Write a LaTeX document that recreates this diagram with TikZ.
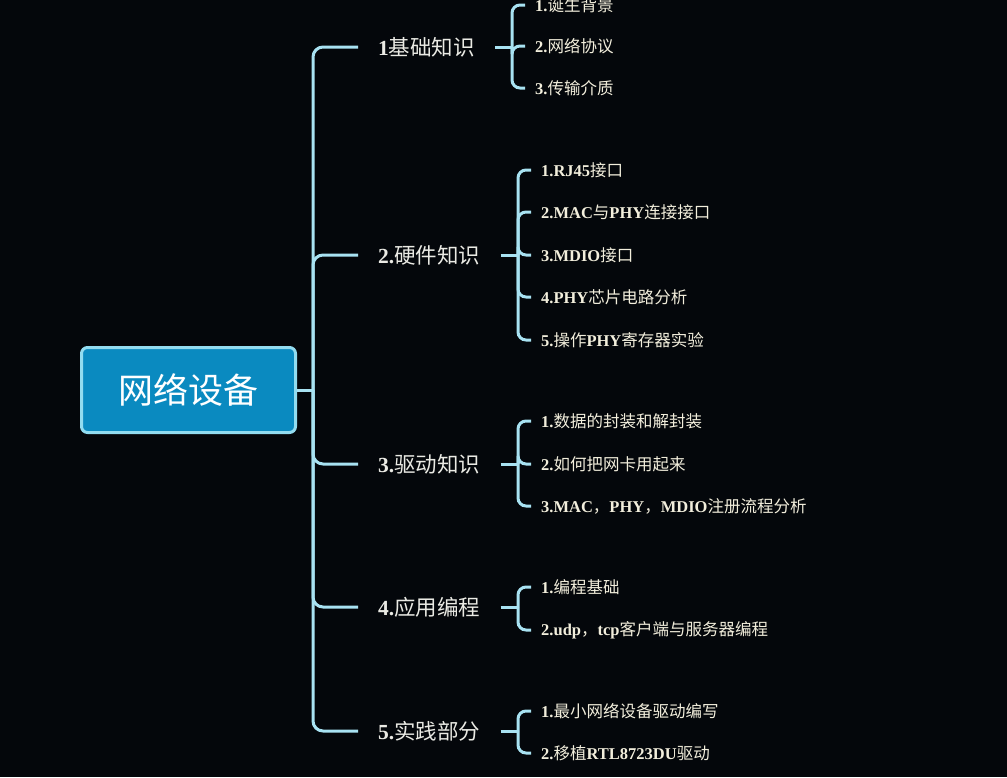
\documentclass[tikz,border=0pt]{standalone}
\usepackage{fontspec}
\setmainfont{Noto Sans CJK SC}
\newfontfamily\latfont{Liberation Serif}
\newcommand\ltn[1]{{\latfont\bfseries #1}}
\definecolor{bg}{HTML}{04070B}
\definecolor{conn}{HTML}{A8E2F2}
\definecolor{rootfill}{HTML}{0A8AC0}
\definecolor{rootline}{HTML}{92DCF0}
\definecolor{labtext}{HTML}{EAEAE4}
\definecolor{leaftext}{HTML}{F2EEDC}
\begin{document}
\begin{tikzpicture}[x=1pt,y=-1pt,
  connector/.style={draw=conn, line width=3pt, rounded corners=8pt},
  trunk/.style={draw=conn, line width=3pt, rounded corners=10pt},
  rootbox/.style={draw=rootline, fill=rootfill, line width=3pt, rounded corners=6pt,
    minimum width=214pt, minimum height=85pt, text=white, font=\fontsize{35}{40}\selectfont},
  lab/.style={anchor=west, inner xsep=20pt, inner ysep=0pt, text=labtext, font=\fontsize{21.5}{26}\selectfont},
  leaf/.style={anchor=west, inner xsep=10pt, inner ysep=0pt, text=leaftext, font=\fontsize{16.5}{20}\selectfont}]
\fill[bg] (0,0) rectangle (1007,777);
\useasboundingbox (0,0) rectangle (1007,777);

\node[rootbox] (root) at (188.5,390) {网络设备};
\coordinate (t) at (313,390);
\draw[trunk] (root.east) -- (t);

\node[lab] (b1) at (358,47) {\ltn{1}基础知识};
\node[lab] (b2) at (358,255) {\ltn{2.}硬件知识};
\node[lab] (b3) at (358,464) {\ltn{3.}驱动知识};
\node[lab] (b4) at (358,607) {\ltn{4.}应用编程};
\node[lab] (b5) at (358,731) {\ltn{5.}实践部分};
\foreach \b in {b1,b2,b3,b4,b5} \draw[trunk] (t) |- (\b.west);

% branch 1
\coordinate (j1) at (512,47);
\draw[connector] (b1.east) -- (j1);
\node[leaf] (l11) at (525,5) {\ltn{1.}诞生背景};
\node[leaf] (l12) at (525,46) {\ltn{2.}网络协议};
\node[leaf] (l13) at (525,88) {\ltn{3.}传输介质};
\foreach \l in {l11,l12,l13} \draw[connector] (j1) |- (\l.west);

% branch 2
\coordinate (j2) at (518,255);
\draw[connector] (b2.east) -- (j2);
\node[leaf] (l21) at (531,170) {\ltn{1.RJ45}接口};
\node[leaf] (l22) at (531,212) {\ltn{2.MAC}与\ltn{PHY}连接接口};
\node[leaf] (l23) at (531,255) {\ltn{3.MDIO}接口};
\node[leaf] (l24) at (531,297) {\ltn{4.PHY}芯片电路分析};
\node[leaf] (l25) at (531,340) {\ltn{5.}操作\ltn{PHY}寄存器实验};
\foreach \l in {l21,l22,l23,l24,l25} \draw[connector] (j2) |- (\l.west);

% branch 3
\coordinate (j3) at (518,464);
\draw[connector] (b3.east) -- (j3);
\node[leaf] (l31) at (531,421) {\ltn{1.}数据的封装和解封装};
\node[leaf] (l32) at (531,464) {\ltn{2.}如何把网卡用起来};
\node[leaf] (l33) at (531,506) {\ltn{3.MAC}，\ltn{PHY}，\ltn{MDIO}注册流程分析};
\foreach \l in {l31,l32,l33} \draw[connector] (j3) |- (\l.west);

% branch 4
\coordinate (j4) at (518,607);
\draw[connector] (b4.east) -- (j4);
\node[leaf] (l41) at (531,587) {\ltn{1.}编程基础};
\node[leaf] (l42) at (531,630) {\ltn{2.udp}，\ltn{tcp}客户端与服务器编程};
\foreach \l in {l41,l42} \draw[connector] (j4) |- (\l.west);

% branch 5
\coordinate (j5) at (518,731);
\draw[connector] (b5.east) -- (j5);
\node[leaf] (l51) at (531,711) {\ltn{1.}最小网络设备驱动编写};
\node[leaf] (l52) at (531,753) {\ltn{2.}移植\ltn{RTL8723DU}驱动};
\foreach \l in {l51,l52} \draw[connector] (j5) |- (\l.west);
\end{tikzpicture}
\end{document}
